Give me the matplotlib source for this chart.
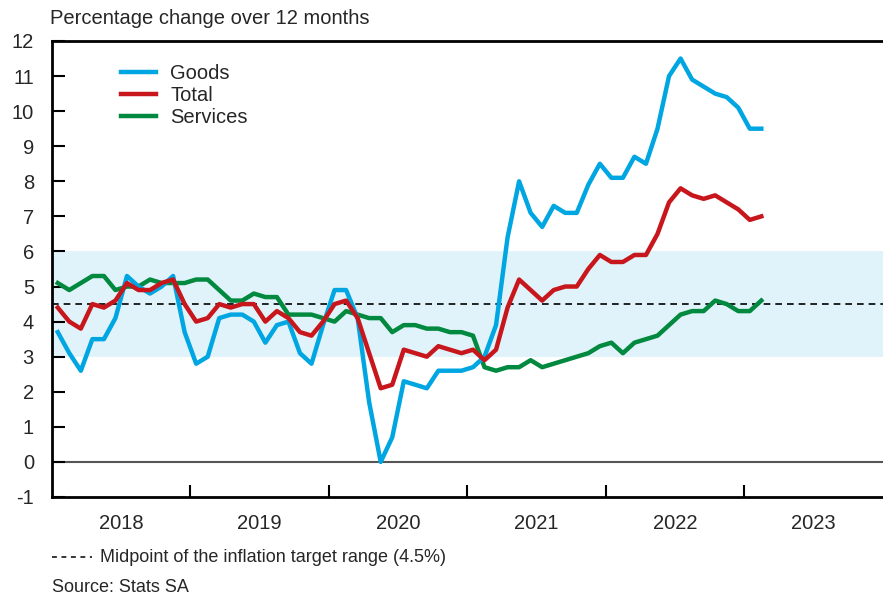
import numpy as np
import pandas as pd
import matplotlib
matplotlib.use('Agg')
import matplotlib.pyplot as plt
from matplotlib.lines import Line2D

plt.rcParams['font.family'] = ['Liberation Sans', 'DejaVu Sans']
plt.rcParams['axes.unicode_minus'] = False

months = pd.date_range('2018-01-01', periods=62, freq='MS')

goods = [3.7, 3.1, 2.6, 3.5, 3.5, 4.1, 5.3, 5.0, 4.8, 5.0, 5.3, 3.7,
         2.8, 3.0, 4.1, 4.2, 4.2, 4.0, 3.4, 3.9, 4.0, 3.1, 2.8, 3.9,
         4.9, 4.9, 4.1, 1.7, 0.0, 0.7, 2.3, 2.2, 2.1, 2.6, 2.6, 2.6,
         2.7, 3.0, 3.9, 6.4, 8.0, 7.1, 6.7, 7.3, 7.1, 7.1, 7.9, 8.5,
         8.1, 8.1, 8.7, 8.5, 9.5, 11.0, 11.5, 10.9, 10.7, 10.5, 10.4, 10.1,
         9.5, 9.5]
total = [4.4, 4.0, 3.8, 4.5, 4.4, 4.6, 5.1, 4.9, 4.9, 5.1, 5.2, 4.5,
         4.0, 4.1, 4.5, 4.4, 4.5, 4.5, 4.0, 4.3, 4.1, 3.7, 3.6, 4.0,
         4.5, 4.6, 4.1, 3.1, 2.1, 2.2, 3.2, 3.1, 3.0, 3.3, 3.2, 3.1,
         3.2, 2.9, 3.2, 4.4, 5.2, 4.9, 4.6, 4.9, 5.0, 5.0, 5.5, 5.9,
         5.7, 5.7, 5.9, 5.9, 6.5, 7.4, 7.8, 7.6, 7.5, 7.6, 7.4, 7.2,
         6.9, 7.0]
services = [5.1, 4.9, 5.1, 5.3, 5.3, 4.9, 5.0, 5.0, 5.2, 5.1, 5.1, 5.1,
            5.2, 5.2, 4.9, 4.6, 4.6, 4.8, 4.7, 4.7, 4.2, 4.2, 4.2, 4.1,
            4.0, 4.3, 4.2, 4.1, 4.1, 3.7, 3.9, 3.9, 3.8, 3.8, 3.7, 3.7,
            3.6, 2.7, 2.6, 2.7, 2.7, 2.9, 2.7, 2.8, 2.9, 3.0, 3.1, 3.3,
            3.4, 3.1, 3.4, 3.5, 3.6, 3.9, 4.2, 4.3, 4.3, 4.6, 4.5, 4.3,
            4.3, 4.6]

years = [2018, 2019, 2020, 2021, 2022, 2023]
target_low, target_high, target_mid = 3, 6, 4.5

BLUE = '#00a6e2'
RED = '#c8161d'
GREEN = '#00893f'
TXT = '#262626'
FS = 14.5

# month -> decimal year, plotted mid-month
x = months.year + (months.month - 0.5) / 12

fig = plt.figure(figsize=(8.83, 6.01), dpi=100)
ax = fig.add_axes([52 / 883, 104 / 601, 1 - 52 / 883, 456 / 601])

ax.axhspan(target_low, target_high, color='#e1f3fa', lw=0, zorder=0)
ax.axhline(target_mid, color='black', lw=1.2, ls=(0, (4, 3)), zorder=1)
ax.axhline(0, color='#555555', lw=1.5, zorder=1)

ax.plot(x, services, color=GREEN, lw=3.2, label='Services', zorder=3)
ax.plot(x, goods, color=BLUE, lw=3.2, label='Goods', zorder=4)
ax.plot(x, total, color=RED, lw=3.2, label='Total', zorder=5)

ax.set_xlim(2018, 2018 + (886 - 52) / 138.9)
ax.set_ylim(-1, 12)

ax.set_yticks(range(-1, 13))
ax.tick_params(axis='y', direction='in', length=9.5, width=1.5, pad=13,
               labelsize=FS, labelcolor=TXT)
ax.set_xticks([y + 0.5 for y in years])
ax.set_xticklabels([str(y) for y in years])
ax.set_xticks(years[1:], minor=True)
ax.tick_params(axis='x', which='major', length=0, pad=12, labelsize=FS,
               labelcolor=TXT)
ax.tick_params(axis='x', which='minor', direction='in', length=8.6, width=1.5)

for side in ['left', 'top', 'bottom']:
    ax.spines[side].set_linewidth(2)
    ax.spines[side].set_color('black')
ax.spines['right'].set_visible(False)

h = {l.get_label(): l for l in ax.get_lines()}
ax.legend([h['Goods'], h['Total'], h['Services']], ['Goods', 'Total', 'Services'],
          loc='upper left', bbox_to_anchor=(0.061, 0.989), frameon=False,
          fontsize=FS, handlelength=1.75, handletextpad=0.7, labelspacing=0.15,
          labelcolor=TXT)

fig.text(50 / 883, 1 - 18 / 601, 'Percentage change over 12 months',
         fontsize=FS, color=TXT, va='center', ha='left')

fig.add_artist(Line2D([52 / 883, 92 / 883], [1 - 557 / 601] * 2, color='black',
                      lw=1.1, ls=(0, (3.2, 3))))
fig.text(100 / 883, 1 - 557 / 601, 'Midpoint of the inflation target range (4.5%)',
         fontsize=13, color=TXT, va='center', ha='left')
fig.text(52 / 883, 1 - 588 / 601, 'Source: Stats SA',
         fontsize=13, color=TXT, va='center', ha='left')

fig.savefig('out.png', dpi=100)
